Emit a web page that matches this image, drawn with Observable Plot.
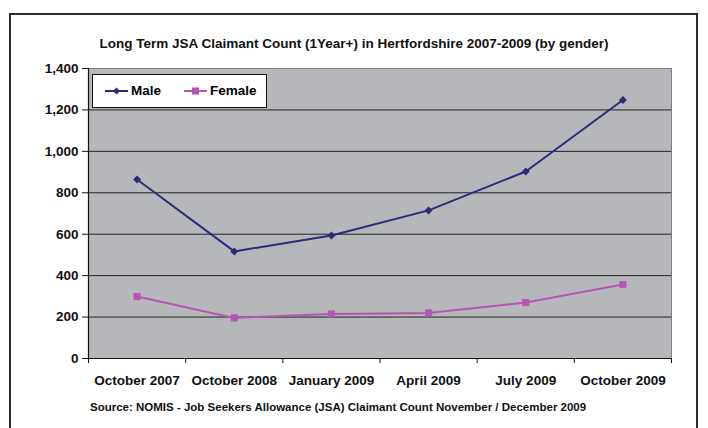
<!DOCTYPE html>
<html>
<head>
<meta charset="utf-8">
<script src="https://cdn.jsdelivr.net/npm/d3@7"></script>
<script src="https://cdn.jsdelivr.net/npm/@observablehq/plot@0.6"></script>
<style>
  html, body { margin: 0; padding: 0; background: #fff; }
  body { width: 708px; height: 428px; position: relative; overflow: hidden; font-family: "Liberation Sans", Arial, sans-serif; }
  #frame { position: absolute; left: 9px; top: 13px; width: 689px; height: 430px; border: 2px solid #2a2a2a; box-sizing: border-box; }
  #title { position: absolute; left: 0; width: 708px; top: 36px; text-align: center; font-weight: bold; font-size: 13.5px; line-height: 16px; color: #111; }
  #chart { position: absolute; left: 0; top: 60px; }
  #source { position: absolute; left: 90px; top: 400px; font-weight: bold; font-size: 11.5px; line-height: 14px; color: #111; }
  #legend { position: absolute; left: 92px; top: 74px; width: 175px; height: 34px; box-sizing: border-box; border: 1px solid #111; background: #fff; font-weight: bold; font-size: 13.5px; }
  .item { position: absolute; top: 0; height: 32px; line-height: 32px; display: flex; align-items: center; }
  .item svg { margin-right: 3px; }
</style>
</head>
<body>
<div id="frame"></div>
<div id="title">Long Term JSA Claimant Count (1Year+) in Hertfordshire 2007-2009 (by gender)</div>
<div id="chart"></div>
<div id="source">Source: NOMIS - Job Seekers Allowance (JSA) Claimant Count November / December 2009</div>
<div id="legend"></div>
<script>
const categories = ["October 2007", "October 2008", "January 2009", "April 2009", "July 2009", "October 2009"];
const male = [864, 517, 594, 715, 903, 1248];
const female = [299, 196, 215, 220, 270, 357];
const yTicks = [0, 200, 400, 600, 800, 1000, 1200, 1400];
const seriesNames = ["Male", "Female"];
const colors = {Male: "#2e2b78", Female: "#b456b2"};

const data = [];
categories.forEach((c, i) => {
  data.push({series: "Male", i: i + 0.5, value: male[i]});
  data.push({series: "Female", i: i + 0.5, value: female[i]});
});
const maleData = data.filter(d => d.series === "Male");
const femaleData = data.filter(d => d.series === "Female");
const centers = categories.map((c, i) => i + 0.5);
const bounds = d3.range(categories.length + 1);

const chart = Plot.plot({
  width: 708,
  height: 340,
  marginLeft: 88,
  marginRight: 37,
  marginTop: 8,
  marginBottom: 42,
  style: {fontFamily: "'Liberation Sans', Arial, sans-serif", fontSize: "13.5px", fontWeight: "bold", color: "#111", background: "transparent"},
  x: {domain: [0, categories.length], axis: null, label: null},
  y: {domain: [0, 1400], axis: null, label: null},
  marks: [
    Plot.frame({fill: "#b6b7bb", stroke: "#808080"}),
    Plot.ruleY(yTicks.filter(t => t > 0 && t < 1400), {stroke: "#222", strokeWidth: 1}),
    Plot.axisY({ticks: yTicks, tickFormat: d3.format(","), tickSize: 6, tickPadding: 4, stroke: "#111", fill: "#111", fontWeight: "bold", label: null}),
    Plot.axisX({ticks: bounds, tickFormat: () => "", tickSize: 5, stroke: "#111", anchor: "bottom", label: null}),
    Plot.axisX({ticks: centers, tickFormat: i => categories[Math.floor(i)], tickSize: 0, tickPadding: 17, fill: "#111", fontWeight: "bold", anchor: "bottom", label: null}),
    Plot.ruleX([0], {stroke: "#111", strokeWidth: 1.2}),
    Plot.ruleY([0], {stroke: "#111", strokeWidth: 1.2}),
    Plot.line(femaleData, {x: "i", y: "value", stroke: colors.Female, strokeWidth: 2}),
    Plot.dot(femaleData, {x: "i", y: "value", symbol: "square", r: 4, fill: colors.Female, stroke: "none"}),
    Plot.line(maleData, {x: "i", y: "value", stroke: colors.Male, strokeWidth: 2}),
    Plot.dot(maleData, {x: "i", y: "value", symbol: "diamond2", r: 3.6, fill: colors.Male, stroke: "none"})
  ]
});
document.getElementById("chart").appendChild(chart);

// legend
const legend = document.getElementById("legend");
const offsets = {Male: 12, Female: 91};
seriesNames.forEach(name => {
  const item = document.createElement("div");
  item.className = "item";
  item.style.left = offsets[name] + "px";
  const marker = name === "Male"
    ? `<polygon points="11.5,1.5 15,5 11.5,8.5 8,5" fill="${colors.Male}"/>`
    : `<rect x="8" y="1.5" width="7" height="7" fill="${colors.Female}"/>`;
  item.innerHTML = `<svg width="23" height="10"><line x1="0" x2="23" y1="5" y2="5" stroke="${colors[name]}" stroke-width="2"/>${marker}</svg><span>${name}</span>`;
  legend.appendChild(item);
});
</script>
</body>
</html>
